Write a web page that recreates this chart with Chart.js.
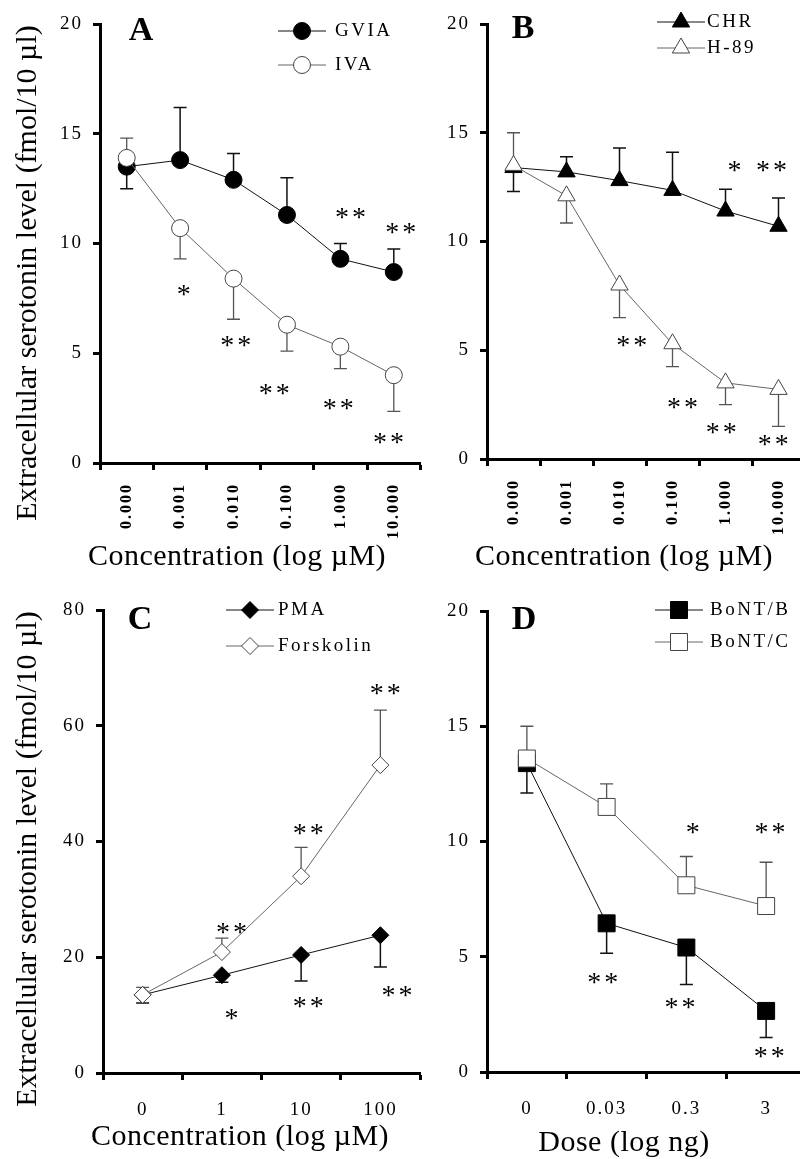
<!DOCTYPE html>
<html>
<head>
<meta charset="utf-8">
<script src="https://cdn.jsdelivr.net/npm/chart.js@4.4.1/dist/chart.umd.min.js"></script>
<style>
  html, body { margin: 0; padding: 0; background: #fff; overflow: hidden; }
  body { width: 800px; height: 1159px; position: relative; }
  canvas { position: absolute; }
</style>
</head>
<body>
<canvas id="panelA" width="430" height="580" style="left:0;top:0"></canvas>
<canvas id="panelB" width="420" height="580" style="left:400px;top:0"></canvas>
<canvas id="panelC" width="430" height="579" style="left:0;top:580px"></canvas>
<canvas id="panelD" width="420" height="579" style="left:400px;top:580px"></canvas>

<script>
// ---- values ----
const concLabels = ['0.000', '0.001', '0.010', '0.100', '1.000', '10.000'];
const pmaLabels = ['0', '1', '10', '100'];
const doseLabels = ['0', '0.03', '0.3', '3'];
const yTicks20 = [0, 5, 10, 15, 20];
const yTicks80 = [0, 20, 40, 60, 80];

// A: GVIA / IVA
const gviaMean = [13.5, 13.8, 12.9, 11.3, 9.3, 8.7];
const gviaErrUp = [null, 2.4, 1.2, 1.7, 0.7, 1.05];
const gviaErrDown = [1.0, null, null, null, null, null];
const ivaMean = [13.9, 10.7, 8.4, 6.3, 5.3, 4.0];
const ivaErrUp = [0.9, null, null, null, null, null];
const ivaErrDown = [null, 1.4, 1.85, 1.2, 1.0, 1.65];
// [category index (fractional = slight shift), y value, text]
const starsA = [[1.07, 7.9, '*'], [2.04, 5.6, '**'], [2.76, 3.4, '**'], [3.96, 2.7, '**'],
                [4.9, 1.15, '**'], [4.19, 11.4, '**'], [5.13, 10.75, '**']];

// B: CHR / H-89
const chrMean = [13.4, 13.2, 12.8, 12.35, 11.4, 10.7];
const chrErrUp = [null, 0.7, 1.5, 1.75, 1.0, 1.3];
const chrErrDown = [1.1, null, null, null, null, null];
const h89Mean = [13.5, 12.1, 8.0, 5.3, 3.5, 3.2];
const h89ErrUp = [1.5, null, null, null, null, null];
const h89ErrDown = [null, 1.25, 1.5, 1.05, 1.0, 1.7];
const starsB = [[4.17, 13.5, '*'], [4.87, 13.5, '**'], [2.23, 5.45, '**'], [3.19, 2.6, '**'],
                [3.92, 1.45, '**'], [4.9, 0.9, '**']];

// C: PMA / Forskolin
const pmaMean = [13.5, 16.9, 20.4, 23.8];
const pmaErrDown = [1.4, 1.2, 4.5, 5.5];
const forsMean = [13.5, 20.9, 34.0, 53.2];
const forsErrUp = [1.3, 2.4, 5.0, 9.5];
const starsC = [[1.12, 25.2, '**'], [2.09, 42.3, '**'], [3.06, 66.5, '**'],
                [1.12, 10.2, '*'], [2.09, 12.3, '**'], [3.21, 14.3, '**']];

// D: BoNT/B / BoNT/C
const bontBMean = [13.4, 6.45, 5.4, 2.65];
const bontBErrDown = [1.3, 1.3, 1.6, 1.15];
const bontCMean = [13.6, 11.5, 8.1, 7.2];
const bontCErrUp = [1.4, 1.0, 1.25, 1.9];
const starsD = [[2.08, 10.6, '*'], [3.05, 10.6, '**'], [0.95, 4.1, '**'], [1.92, 3.0, '**'], [3.04, 0.9, '**']];

const serif = 'Liberation Serif';
const yTitleText = 'Extracellular serotonin level (fmol/10 \u00b5l)';

const panels = [
  { id: 'panelA', letter: 'A', labels: concLabels, yTicks: yTicks20, rotate: true, marker: 'circle', radius: 8.5,
    xTitle: 'Concentration (log \u00b5M)', yTitle: true, yWidth: 100, xHeight: 117, padTop: 24, padRight: 9,
    titleDy: 94, letterAt: [41, 7], legendAt: [202, 7], legendGap: 34, textDx: 33, stars: starsA,
    series: [
      { name: 'GVIA', mean: gviaMean, up: gviaErrUp, down: gviaErrDown, filled: true },
      { name: 'IVA', mean: ivaMean, up: ivaErrUp, down: ivaErrDown, filled: false }
    ] },
  { id: 'panelB', letter: 'B', labels: concLabels, yTicks: yTicks20, rotate: true, marker: 'triangle', radius: 10,
    xTitle: 'Concentration (log \u00b5M)', yTitle: false, yWidth: 87, xHeight: 121, padTop: 24, padRight: 15,
    titleDy: 98, letterAt: [36, 5], legendAt: [194, -2], legendGap: 26, textDx: 26, stars: starsB,
    series: [
      { name: 'CHR', mean: chrMean, up: chrErrUp, down: chrErrDown, filled: true },
      { name: 'H-89', mean: h89Mean, up: h89ErrUp, down: h89ErrDown, filled: false }
    ] },
  { id: 'panelC', letter: 'C', labels: pmaLabels, yTicks: yTicks80, rotate: false, marker: 'rectRot', radius: 8.5,
    xTitle: 'Concentration (log \u00b5M)', yTitle: true, yWidth: 103, xHeight: 86, padTop: 30, padRight: 10,
    titleDy: 64, letterAt: [37, 10], legendAt: [147, 0], legendGap: 36, textDx: 28, stars: starsC,
    series: [
      { name: 'PMA', mean: pmaMean, up: null, down: pmaErrDown, filled: true },
      { name: 'Forskolin', mean: forsMean, up: forsErrUp, down: null, filled: false }
    ] },
  { id: 'panelD', letter: 'D', labels: doseLabels, yTicks: yTicks20, rotate: false, marker: 'rect', radius: 12,
    xTitle: 'Dose (log ng)', yTitle: false, yWidth: 87, xHeight: 87, padTop: 31, padRight: 14,
    titleDy: 71, letterAt: [37, 9], legendAt: [192, -1], legendGap: 32, textDx: 31, stars: starsD,
    series: [
      { name: 'BoNT/B', mean: bontBMean, up: null, down: bontBErrDown, filled: true },
      { name: 'BoNT/C', mean: bontCMean, up: bontCErrUp, down: null, filled: false }
    ] }
];

// error bars, asterisks, legend, panel letter and axis titles
function decorations(p) {
  return {
    id: 'decor',
    beforeDraw(chart) { chart.ctx.letterSpacing = '2px'; },
    beforeDatasetsDraw(chart) {
      const ctx = chart.ctx, ys = chart.scales.y;
      ctx.save();
      p.series.forEach((s, k) => {
        const pts = chart.getDatasetMeta(k).data;
        ctx.strokeStyle = s.filled ? '#111' : '#555';
        ctx.lineWidth = s.filled ? 1.5 : 1.3;
        s.mean.forEach((m, i) => {
          [[s.up, 1], [s.down, -1]].forEach(([errs, dir]) => {
            const e = errs ? errs[i] : null;
            if (e == null) return;
            const x = pts[i].x, y0 = ys.getPixelForValue(m), y1 = ys.getPixelForValue(m + dir * e);
            ctx.beginPath();
            ctx.moveTo(x, y0); ctx.lineTo(x, y1);
            ctx.moveTo(x - 6.5, y1); ctx.lineTo(x + 6.5, y1);
            ctx.stroke();
          });
        });
      });
      ctx.restore();
    },
    afterDraw(chart) {
      const ctx = chart.ctx, a = chart.chartArea, xs = chart.scales.x, ys = chart.scales.y;
      ctx.save();
      ctx.fillStyle = '#000';

      // significance marks
      ctx.font = '28px "' + serif + '"';
      ctx.letterSpacing = '3px';
      ctx.textAlign = 'center';
      ctx.textBaseline = 'alphabetic';
      p.stars.forEach(([idx, v, t]) => {
        ctx.fillText(t, xs.getPixelForValue(idx) + 1.5, ys.getPixelForValue(v) + 13.5);
      });

      // legend
      p.series.forEach((s, k) => {
        const lx = a.left + p.legendAt[0], ly = a.top + p.legendAt[1] + k * p.legendGap;
        ctx.strokeStyle = s.filled ? '#111' : '#666';
        ctx.lineWidth = 1;
        ctx.beginPath(); ctx.moveTo(lx - 24, ly); ctx.lineTo(lx + 24, ly); ctx.stroke();
        ctx.fillStyle = s.filled ? '#000' : '#fff';
        ctx.strokeStyle = s.filled ? '#000' : '#444';
        Chart.helpers.drawPoint(ctx, { pointStyle: p.marker, radius: p.radius, borderWidth: 1, rotation: 0 }, lx, ly);
        ctx.fillStyle = '#000';
        ctx.font = '19px "' + serif + '"';
        ctx.letterSpacing = '2.5px';
        ctx.textAlign = 'left';
        ctx.textBaseline = 'middle';
        ctx.fillText(s.name, lx + p.textDx, ly);
      });

      // panel letter
      ctx.font = 'bold 34px "' + serif + '"';
      ctx.letterSpacing = '0px';
      ctx.textAlign = 'center';
      ctx.textBaseline = 'middle';
      ctx.fillText(p.letter, a.left + p.letterAt[0], a.top + p.letterAt[1]);

      // axis titles
      ctx.font = '30px "' + serif + '"';
      ctx.letterSpacing = '0.5px';
      ctx.fillText(p.xTitle, a.left + 137, a.bottom + p.titleDy);
      if (p.yTitle) {
        ctx.translate(28, a.top + 249);
        ctx.rotate(-Math.PI / 2);
        ctx.letterSpacing = '0px';
        ctx.fillText(yTitleText, 0, 0);
      }
      ctx.restore();
    }
  };
}

function buildPanel(p) {
  const ctx = document.getElementById(p.id).getContext('2d');
  const axisGrid = { drawOnChartArea: false, tickLength: 7, tickWidth: 3, tickColor: '#000' };
  return new Chart(ctx, {
    type: 'line',
    data: {
      labels: p.labels,
      datasets: p.series.map(s => ({
        label: s.name,
        data: s.mean,
        order: s.filled ? 1 : 0,
        borderColor: s.filled ? '#111' : '#666',
        borderWidth: 1,
        tension: 0,
        fill: false,
        pointStyle: p.marker,
        pointRadius: p.radius,
        pointHoverRadius: p.radius,
        pointBackgroundColor: s.filled ? '#000' : '#fff',
        pointBorderColor: s.filled ? '#000' : '#444',
        pointBorderWidth: 1
      }))
    },
    options: {
      responsive: false,
      animation: false,
      events: [],
      layout: { padding: { top: p.padTop, right: p.padRight, left: 0, bottom: 0 } },
      plugins: { legend: { display: false }, tooltip: { enabled: false } },
      scales: {
        x: {
          offset: true,
          grid: Object.assign({ offset: true }, axisGrid),
          border: { display: true, color: '#000', width: 3 },
          ticks: p.rotate
            ? { autoSkip: false, minRotation: 90, maxRotation: 90, padding: 13, color: '#000',
                font: { family: serif, size: 16, weight: 'bold' } }
            : { autoSkip: false, maxRotation: 0, padding: 19, color: '#000',
                font: { family: serif, size: 19 } },
          afterFit(scale) { scale.height = p.xHeight; }
        },
        y: {
          min: p.yTicks[0],
          max: p.yTicks[p.yTicks.length - 1],
          grid: axisGrid,
          border: { display: true, color: '#000', width: 3 },
          ticks: { stepSize: p.yTicks[1] - p.yTicks[0], padding: 10, color: '#000',
                   font: { family: serif, size: 19 } },
          afterFit(scale) { scale.width = p.yWidth; }
        }
      }
    },
    plugins: [decorations(p)]
  });
}

panels.forEach(buildPanel);
</script>
</body>
</html>
